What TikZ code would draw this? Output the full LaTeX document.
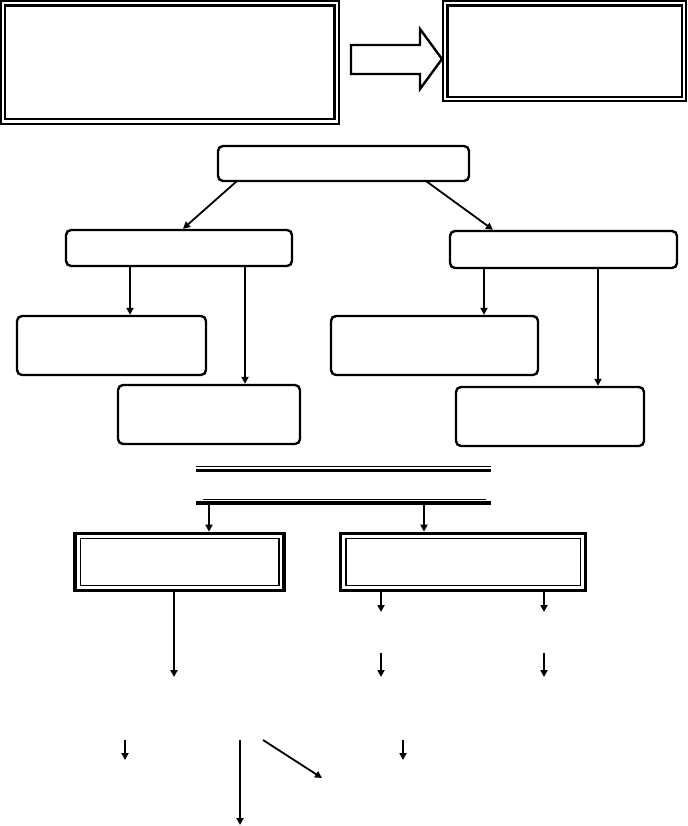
\documentclass[tikz,border=0pt]{standalone}
\usetikzlibrary{arrows.meta,calc}
\begin{document}
\begin{tikzpicture}[x=1pt,y=-1pt,
  rbox/.style={draw,line width=2.4pt,rounded corners=5pt,inner sep=0pt},
  arr/.style={line width=1.8pt,-{Triangle[length=7pt,width=7pt]}},
  thinl/.style={line width=1.1pt},
  thickl/.style={line width=2.2pt},
  heavyl/.style={line width=3.6pt}]
\useasboundingbox (0,0) rectangle (687,826);
% top double boxes
\draw[thinl] (1,1) rectangle (339,124);
\draw[thickl] (5,5.5) rectangle (334.5,119);
\draw[thinl] (443,1) rectangle (686,101);
\draw[thickl] (447.5,5.5) rectangle (682,97);
% block arrow
\draw[line width=2.4pt,line join=miter] (351,45) -- (420,45) -- (420,29) -- (442,59) -- (420,89) -- (420,74) -- (351,74) -- cycle;
% rounded boxes
\node[rbox,minimum width=251pt,minimum height=35pt] (top) at (343.5,163.5) {};
\node[rbox,minimum width=226pt,minimum height=36pt] (lm) at (179,248) {};
\node[rbox,minimum width=227pt,minimum height=37pt] (rm) at (563.5,249.5) {};
\node[rbox,minimum width=189pt,minimum height=59pt] (l1) at (111.5,345.5) {};
\node[rbox,minimum width=182pt,minimum height=59pt] (l2) at (209,414.5) {};
\node[rbox,minimum width=207pt,minimum height=59pt] (r1) at (434.5,345.5) {};
\node[rbox,minimum width=188pt,minimum height=59pt] (r2) at (550,416.5) {};
% connectors
\coordinate (ts1) at (237,181);
\coordinate (ts2) at (426,181);
\draw[arr] (ts1) -- (lm.north -| 183,0);
\draw[arr] (ts2) -- (rm.north -| 493,0);
\draw[arr] (lm.south -| 130,0) -- (l1.north -| 130,0);
\draw[arr] (lm.south -| 245,0) -- (l2.north -| 245,0);
\draw[arr] (rm.south -| 484,0) -- (r1.north -| 484,0);
\draw[arr] (rm.south -| 598,0) -- (r2.north -| 598,0);
% double lines
\draw[thinl] (196,466.5) -- (491,466.5);
\draw[heavyl] (196,470.5) -- (491,470.5);
\draw[thinl] (203,499.5) -- (486,499.5);
\coordinate (bl) at (196,503);
\coordinate (br) at (491,503);
\draw[heavyl] (bl) -- (br);
% bottom double boxes
\node[draw,line width=3.6pt,minimum width=209pt,minimum height=57pt,inner sep=0pt] (bb1) at (179.5,562) {};
\draw[thinl] (80.5,538.5) rectangle (279,585.5);
\node[draw,line width=3.6pt,minimum width=245pt,minimum height=57pt,inner sep=0pt] (bb2) at (463,562) {};
\draw[thinl] (346,538.5) rectangle (580.5,585.5);
\draw[arr] (bl -| 209,0) -- (bb1.north -| 209,0);
\draw[arr] (bl -| 424,0) -- (bb2.north -| 424,0);
% lower free arrows
\coordinate (e1) at (174,677);
\draw[arr] (bb1.south -| 174,0) -- (e1);
\coordinate (e2) at (381,612);
\draw[arr] (bb2.south -| 381,0) -- (e2);
\coordinate (e3) at (544,612);
\draw[arr] (bb2.south -| 544,0) -- (e3);
\coordinate (s4) at (381,653); \coordinate (e4) at (381,677);
\draw[arr] (s4) -- (e4);
\coordinate (s5) at (544,653); \coordinate (e5) at (544,677);
\draw[arr] (s5) -- (e5);
\coordinate (s6) at (125,740); \coordinate (e6) at (125,760);
\draw[arr] (s6) -- (e6);
\coordinate (s7) at (240,740); \coordinate (e7) at (240,825);
\draw[arr] (s7) -- (e7);
\coordinate (s8) at (263,740); \coordinate (e8) at (322,778);
\draw[arr] (s8) -- (e8);
\coordinate (s9) at (403,740); \coordinate (e9) at (403,760);
\draw[arr] (s9) -- (e9);
\end{tikzpicture}
\end{document}
